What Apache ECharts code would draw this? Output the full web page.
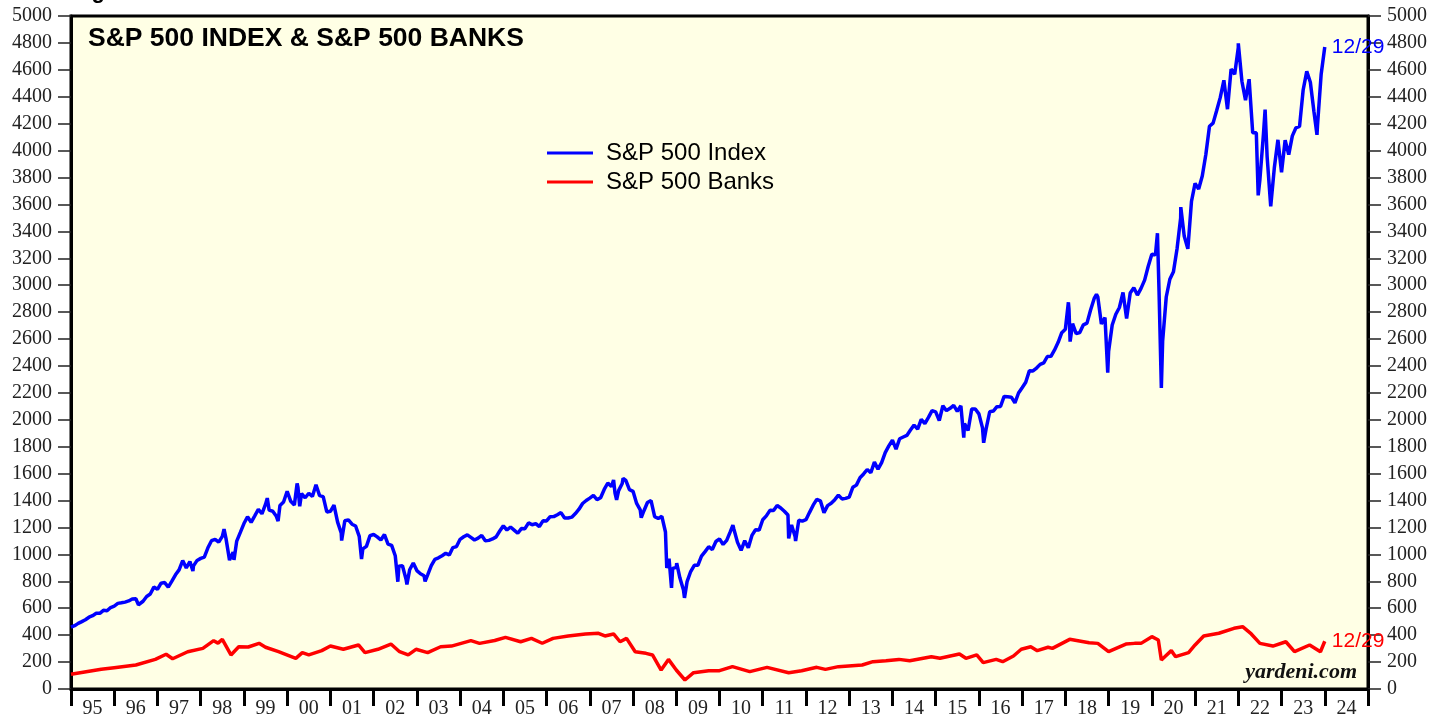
<!DOCTYPE html>
<html>
<head>
<meta charset="utf-8">
<script src="https://cdn.jsdelivr.net/npm/echarts@6/dist/echarts.min.js"></script>
<style>
  html, body { margin: 0; padding: 0; background: #fff; }
  #chart { width: 1450px; height: 719px; }
</style>
</head>
<body>
<div id="chart"></div>
<script>
// year labels under the x axis
var yearLabels = ['95','96','97','98','99','00','01','02','03','04','05','06','07','08','09',
  '10','11','12','13','14','15','16','17','18','19','20','21','22','23','24'];

// S&P 500, month-end closes, Jan 1995 .. Dec 2023
var spxStart = 459.3;
var spxMonthEnd = [
  470.4, 487.4, 500.7, 514.7, 533.4, 544.8, 562.1, 561.9, 584.4, 581.5, 605.4, 615.9,
  636.0, 640.4, 645.5, 654.2, 669.1, 670.6, 639.9, 652.0, 687.3, 705.3, 757.0, 740.7,
  786.2, 790.8, 757.1, 801.3, 848.3, 885.1, 954.3, 899.5, 947.3, 914.6, 955.4, 970.4,
  980.3, 1049.3, 1101.8, 1111.8, 1090.8, 1133.8, 1120.7, 957.3, 1017.0, 1098.7, 1163.6, 1229.2,
  1279.6, 1238.3, 1286.4, 1335.2, 1301.8, 1372.7, 1328.7, 1320.4, 1282.7, 1362.9, 1388.9, 1469.3,
  1394.5, 1366.4, 1498.6, 1452.4, 1420.6, 1454.6, 1430.8, 1517.7, 1436.5, 1429.4, 1315.2, 1320.3,
  1366.0, 1239.9, 1160.3, 1249.5, 1255.8, 1224.4, 1211.2, 1133.6, 1040.9, 1059.8, 1139.5, 1148.1,
  1130.2, 1106.7, 1147.4, 1076.9, 1067.1, 989.8, 911.6, 916.1, 815.3, 885.8, 936.3, 879.8,
  855.7, 841.2, 848.2, 916.9, 963.6, 974.5, 990.3, 1008.0, 996.0, 1050.7, 1058.2, 1111.9,
  1131.1, 1144.9, 1126.2, 1107.3, 1120.7, 1140.8, 1101.7, 1104.2, 1114.6, 1130.2, 1173.8, 1211.9,
  1181.3, 1203.6, 1180.6, 1156.9, 1191.5, 1191.3, 1234.2, 1220.3, 1228.8, 1207.0, 1249.5, 1248.3,
  1280.1, 1280.7, 1294.9, 1310.6, 1270.1, 1270.2, 1276.7, 1303.8, 1335.9, 1377.9, 1400.6, 1418.3,
  1438.2, 1406.8, 1420.9, 1482.4, 1530.6, 1503.4, 1455.3, 1474.0, 1527.0, 1549.4, 1481.1, 1468.4,
  1378.6, 1330.6, 1322.7, 1385.6, 1400.4, 1280.0, 1267.4, 1282.8, 1166.4, 968.8, 896.2, 903.3,
  825.9, 735.1, 797.9, 872.8, 919.1, 919.3, 987.5, 1020.6, 1057.1, 1036.2, 1095.6, 1115.1,
  1073.9, 1104.5, 1169.4, 1186.7, 1089.4, 1030.7, 1101.6, 1049.3, 1141.2, 1183.3, 1180.6, 1257.6,
  1286.1, 1327.2, 1325.8, 1363.6, 1345.2, 1320.6, 1292.3, 1218.9, 1131.4, 1253.3, 1247.0, 1257.6,
  1312.4, 1365.7, 1408.5, 1397.9, 1310.3, 1362.2, 1379.3, 1406.6, 1440.7, 1412.2, 1416.2, 1426.2,
  1498.1, 1514.7, 1569.2, 1597.6, 1630.7, 1606.3, 1685.7, 1633.0, 1681.6, 1756.5, 1805.8, 1848.4,
  1782.6, 1859.5, 1872.3, 1884.0, 1923.6, 1960.2, 1930.7, 2003.4, 1972.3, 2018.1, 2067.6, 2058.9,
  1995.0, 2104.5, 2067.9, 2085.5, 2107.4, 2063.1, 2103.8, 1972.2, 1920.0, 2079.4, 2080.4, 2043.9,
  1940.2, 1932.2, 2059.7, 2065.3, 2097.0, 2098.9, 2173.6, 2171.0, 2168.3, 2126.2, 2199.0, 2238.8,
  2278.9, 2363.6, 2362.7, 2384.2, 2411.8, 2423.4, 2470.3, 2471.7, 2519.4, 2575.3, 2647.6, 2673.6,
  2823.8, 2713.8, 2640.9, 2648.1, 2705.3, 2718.4, 2816.3, 2901.5, 2914.0, 2711.7, 2760.2, 2506.9,
  2704.1, 2784.5, 2834.4, 2945.8, 2752.1, 2941.8, 2980.4, 2926.5, 2976.7, 3037.6, 3141.0, 3230.8,
  3225.5, 2954.2, 2584.6, 2912.4, 3044.3, 3100.3, 3271.1, 3500.3, 3363.0, 3270.0, 3621.6, 3756.1,
  3714.2, 3811.2, 3972.9, 4181.2, 4204.1, 4297.5, 4395.3, 4522.7, 4307.5, 4605.4, 4567.0, 4766.2,
  4515.6, 4373.9, 4530.4, 4131.9, 4132.2, 3785.4, 4130.3, 3955.0, 3585.6, 3872.0, 4080.1, 3839.5,
  4076.6, 3970.2, 4109.3, 4169.5, 4179.8, 4450.4, 4589.0, 4507.7, 4288.1, 4193.8, 4567.8, 4769.8
];

// S&P 500, intra-month highs and lows that show in the daily line
var spxExtraDates = [1996.56, 1997.82, 1998.54, 1998.77, 1999.54, 1999.79, 2000.23, 2000.29, 2000.67,
  2001.26, 2001.72, 2002.56, 2002.77, 2003.19, 2007.55, 2007.62, 2007.77, 2008.19, 2008.78, 2008.89,
  2009.01, 2009.19, 2010.31, 2010.50, 2011.60, 2011.76, 2015.65, 2016.11, 2018.07, 2018.11, 2018.72,
  2018.98, 2020.13, 2020.22, 2020.67, 2022.00, 2022.46, 2022.62, 2022.78, 2023.82];
var spxExtraValues = [626, 876, 1187, 959, 1418, 1247, 1527, 1357, 1520,
  1103, 966, 797, 777, 800, 1553, 1406, 1565, 1273, 899, 752,
  935, 677, 1217, 1022, 1119, 1099, 1867, 1829, 2873, 2581, 2931,
  2351, 3386, 2237, 3580, 4797, 3667, 4305, 3577, 4117];

// S&P 500 Banks
var bankDates = [1995.0, 1995.35, 1995.7, 1996.0, 1996.5, 1996.95, 1997.2, 1997.35, 1997.7, 1998.05,
  1998.3, 1998.4, 1998.5, 1998.7, 1998.88, 1999.1, 1999.35, 1999.5, 1999.8, 2000.2,
  2000.35, 2000.5, 2000.8, 2001.0, 2001.3, 2001.65, 2001.8, 2002.1, 2002.4, 2002.6,
  2002.8, 2002.98, 2003.25, 2003.55, 2003.8, 2004.25, 2004.45, 2004.8, 2005.05, 2005.4,
  2005.65, 2005.9, 2006.15, 2006.5, 2006.9, 2007.2, 2007.35, 2007.55, 2007.7, 2007.85,
  2008.05, 2008.3, 2008.45, 2008.65, 2008.82, 2009.0, 2009.2, 2009.4, 2009.75, 2010.0,
  2010.3, 2010.7, 2011.1, 2011.6, 2011.9, 2012.25, 2012.45, 2012.75, 2013.3, 2013.55,
  2013.85, 2014.15, 2014.4, 2014.9, 2015.1, 2015.55, 2015.7, 2015.95, 2016.1, 2016.4,
  2016.55, 2016.8, 2016.98, 2017.2, 2017.35, 2017.6, 2017.7, 2018.1, 2018.55, 2018.75,
  2019.0, 2019.4, 2019.6, 2019.75, 2020.0, 2020.15, 2020.22, 2020.3, 2020.45, 2020.55,
  2020.85, 2021.0, 2021.2, 2021.55, 2021.9, 2022.1, 2022.3, 2022.5, 2022.8, 2023.1,
  2023.3, 2023.65, 2023.9, 2024.0];
var bankValues = [110, 128, 146, 158, 178, 220, 258, 225, 277, 302,
  359, 341, 369, 253, 314, 312, 339, 310, 277, 228,
  270, 253, 285, 319, 295, 327, 270, 295, 334, 277,
  253, 295, 270, 314, 319, 359, 339, 360, 384, 351,
  376, 340, 376, 394, 409, 414, 394, 409, 351, 376,
  277, 265, 253, 141, 220, 141, 67, 121, 136, 136,
  166, 129, 161, 121, 136, 161, 146, 166, 178, 203,
  210, 220, 210, 240, 228, 260, 228, 253, 196, 220,
  203, 245, 295, 314, 285, 310, 302, 369, 344, 339,
  277, 334, 339, 339, 389, 364, 215, 240, 285, 240,
  270, 327, 394, 414, 451, 463, 409, 339, 319, 351,
  277, 327, 277, 355];

var spxData = [[1995, spxStart]];
spxMonthEnd.forEach(function (v, i) { spxData.push([1995 + (i + 1) / 12, v]); });
spxExtraDates.forEach(function (d, i) { spxData.push([d, spxExtraValues[i]]); });
spxData.sort(function (a, b) { return a[0] - b[0]; });
var bankData = bankDates.map(function (d, i) { return [d, bankValues[i]]; });

var serif = 'Liberation Serif';
var sans = 'Liberation Sans';
var yAxisBase = {
  type: 'value', min: 0, max: 5000, interval: 200,
  splitLine: { show: false },
  axisLine: { show: true, lineStyle: { color: '#000', width: 3 } },
  axisTick: { show: true, length: 13, lineStyle: { color: '#222', width: 1.5 } },
  axisLabel: { color: '#222', fontFamily: serif, fontSize: 20, margin: 19,
    formatter: function (v) { return String(v); } }
};

var chart = echarts.init(document.getElementById('chart'), null, { renderer: 'canvas' });
chart.setOption({
  animation: false,
  backgroundColor: '#fff',
  grid: {
    left: 71, right: 82, top: 16, bottom: 30,
    show: true, backgroundColor: '#ffffe5', borderColor: '#000', borderWidth: 3
  },
  title: {
    text: 'S&P 500 INDEX & S&P 500 BANKS',
    left: 83, top: 20,
    textStyle: { fontFamily: sans, fontWeight: 'bold', fontSize: 26.5, color: '#000' }
  },
  legend: {
    orient: 'vertical', left: 542, top: 136, itemGap: 5,
    itemWidth: 46, itemHeight: 3, icon: 'rect',
    textStyle: { fontFamily: sans, fontSize: 24, color: '#000', padding: [0, 0, 0, 8] },
    data: ['S&P 500 Index', 'S&P 500 Banks']
  },
  xAxis: [{
    type: 'value', min: 1995, max: 2025, show: false
  }, {
    type: 'category', data: yearLabels, position: 'bottom', boundaryGap: true,
    axisLine: { show: true, lineStyle: { color: '#000', width: 3 } },
    axisTick: { show: true, length: 17, interval: 0, lineStyle: { color: '#000', width: 3 } },
    axisLabel: { color: '#222', fontFamily: serif, fontSize: 20, margin: 10, interval: 0 }
  }],
  yAxis: [
    Object.assign({}, yAxisBase, { position: 'left' }),
    Object.assign({}, yAxisBase, { position: 'right' })
  ],
  series: [{
    name: 'S&P 500 Index', type: 'line', xAxisIndex: 0, yAxisIndex: 0,
    data: spxData, showSymbol: false, symbol: 'none',
    lineStyle: { color: '#0000ff', width: 3.5 }, itemStyle: { color: '#0000ff' },
    endLabel: { show: true, formatter: '12/29', color: '#0000ff', fontFamily: sans, fontSize: 21, distance: 7 }
  }, {
    name: 'S&P 500 Banks', type: 'line', xAxisIndex: 0, yAxisIndex: 0,
    data: bankData, showSymbol: false, symbol: 'none',
    lineStyle: { color: '#ff0000', width: 3.5 }, itemStyle: { color: '#ff0000' },
    endLabel: { show: true, formatter: '12/29', color: '#ff0000', fontFamily: sans, fontSize: 21, distance: 7 }
  }],
  graphic: [{
    type: 'text', left: 72, top: -19,
    style: { text: 'Figure 1.', fontFamily: sans, fontWeight: 'bold', fontSize: 22, fill: '#000' }
  }, {
    type: 'text', right: 93, top: 661,
    style: { text: 'yardeni.com', fontFamily: serif, fontWeight: 'bold', fontStyle: 'italic', fontSize: 22, fill: '#111' }
  }]
});
</script>
</body>
</html>
